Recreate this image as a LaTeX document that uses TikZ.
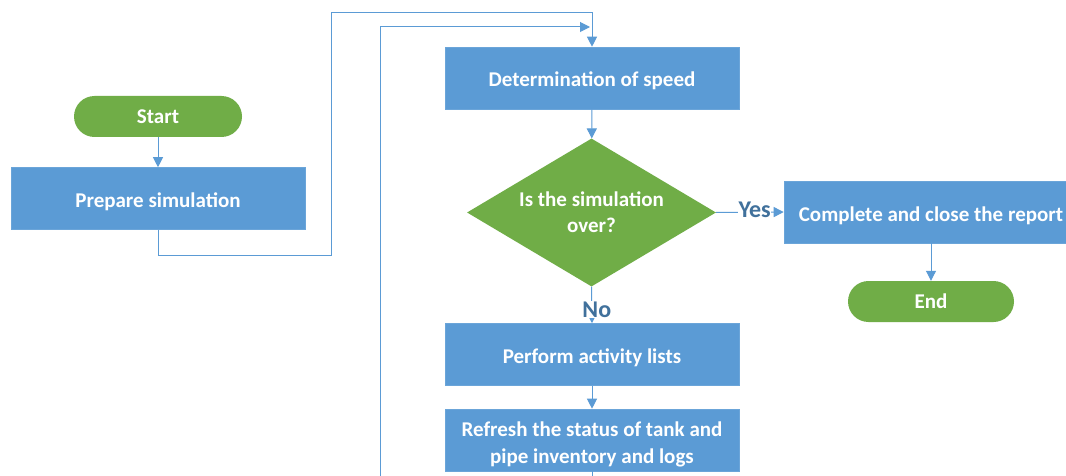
\documentclass[tikz,border=0pt]{standalone}
\usepackage{fontspec}
\setmainfont{Carlito}
\usetikzlibrary{arrows.meta,shapes.geometric}
\definecolor{boxblue}{HTML}{5B9BD5}
\definecolor{boxgreen}{HTML}{70AD47}
\definecolor{lineblue}{HTML}{5B9BD5}
\definecolor{labelblue}{HTML}{41719C}
\tikzset{
  proc/.style={rectangle, fill=boxblue, draw=boxblue!90!white, line width=0.6pt, minimum width=294pt, minimum height=62pt, text=white, font=\fontsize{21}{26.5}\selectfont\bfseries, align=center, inner sep=0pt},
  oneline/.style={text height=18pt, text depth=0pt},
  term/.style={rectangle, rounded corners=20.5pt, fill=boxgreen, minimum width=168pt, minimum height=41pt, text=white, font=\fontsize{21}{26.5}\selectfont\bfseries, inner sep=0pt},
  dec/.style={diamond, fill=boxgreen, aspect=1.68, minimum width=249pt, minimum height=148pt, text=white, font=\fontsize{21}{26}\selectfont\bfseries, align=center, inner sep=0pt},
  conn/.style={draw=lineblue, line width=1pt, -{Triangle[length=10pt,width=10pt]}},
  plain/.style={draw=lineblue, line width=1pt},
  lbl/.style={text=labelblue, font=\fontsize{24}{26}\selectfont\bfseries, fill=white, inner sep=0.5pt}
}
\begin{document}
\begin{tikzpicture}[x=1pt,y=-1pt]
\clip (0,0) rectangle (1066,476);
\fill[white] (0,0) rectangle (1066,476);
\node[term] (start) at (158,116.5) {Start};
\node[proc, oneline] (prep) at (158,198.5) {Prepare simulation};
\node[proc, oneline] (det) at (592,78) {Determination of speed};
\node[dec] (dec) at (591.5,212.5) {Is the simulation\\over?};
\node[proc, oneline] (comp) at (931,212) {Complete and close the report};
\node[term, minimum width=166pt] (end) at (931,301.5) {End};
\node[proc, oneline] (perf) at (592,354.5) {Perform activity lists};
\node[proc, font=\fontsize{21}{27}\selectfont\bfseries, text height=46pt, text depth=0pt] (ref) at (592,440) {Refresh the status of tank and\\pipe inventory and logs};
\coordinate (a1) at (158,255);
\coordinate (a2) at (331,255);
\coordinate (a3) at (331,13);
\coordinate (a4) at (592,13);
\coordinate (b1) at (592,490);
\coordinate (b2) at (380,490);
\coordinate (b3) at (380,27);
\coordinate (b4) at (590,27);
\draw[conn] (start) -- (prep);
\draw[conn] (prep.south) -- (a1) -- (a2) -- (a3) -- (a4) -- (det.north);
\draw[conn] (det) -- (dec);
\draw[conn] (dec.east) -- node[lbl, pos=0.57, yshift=2pt] {Yes} (comp.west);
\draw[conn] (comp) -- (end);
\draw[conn] (dec.south) -- node[lbl, pos=0.62, xshift=5pt] {No} (perf.north);
\draw[conn] (perf) -- (ref);
\draw[conn] (ref.south) -- (b1) -- (b2) -- (b3) -- (b4);
\end{tikzpicture}
\end{document}
